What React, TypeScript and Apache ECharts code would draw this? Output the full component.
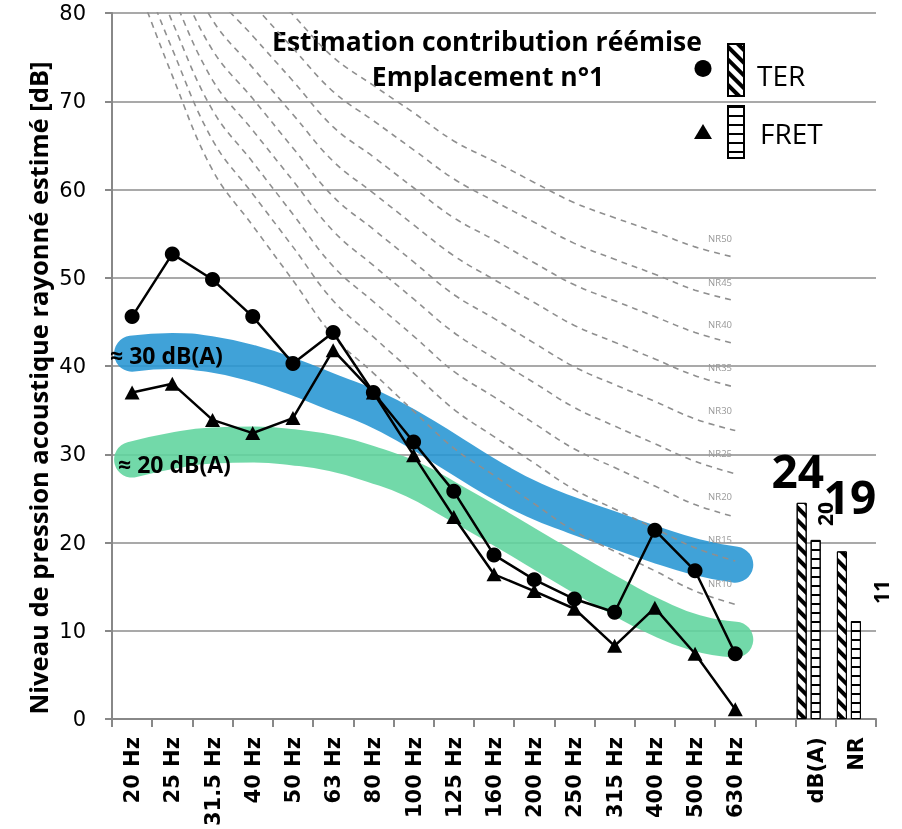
import React, { useEffect, useRef } from 'react';
import * as echarts from 'echarts';

const freqLabels = ['20 Hz', '25 Hz', '31.5 Hz', '40 Hz', '50 Hz', '63 Hz', '80 Hz', '100 Hz', '125 Hz', '160 Hz', '200 Hz', '250 Hz', '315 Hz', '400 Hz', '500 Hz', '630 Hz'];
const categories = [...freqLabels, '', 'dB(A)', 'NR'];
const yTicks = { min: 0, max: 80, interval: 10 };

const terValues = [45.6, 52.7, 49.8, 45.6, 40.3, 43.8, 37.0, 31.4, 25.8, 18.6, 15.8, 13.6, 12.1, 21.4, 16.8, 7.4];
const fretValues = [37.0, 38.0, 33.9, 32.4, 34.1, 41.8, 37.0, 29.9, 22.9, 16.4, 14.5, 12.5, 8.3, 12.6, 7.4, 1.1];

const terTotals = [24.5, 19.0];
const terTotalLabels = ['24', '19'];
const fretTotals = [20.3, 11.1];
const fretTotalLabels = ['20', '11'];

const band30 = [41.4, 41.7, 41.3, 40.3, 38.8, 37.0, 35.2, 32.8, 30.0, 27.2, 24.8, 23.0, 21.4, 19.8, 18.4, 17.5];
const band20 = [29.4, 30.4, 31.0, 31.1, 30.8, 30.1, 28.8, 27.1, 24.6, 22.0, 19.3, 16.6, 14.0, 11.6, 9.8, 9.0];

const nr10 = [84.8, 72.9, 62.2, 55.9, 49.7, 43.4, 39.2, 34.9, 30.7, 27.6, 24.4, 21.3, 19.0, 16.8, 14.5, 13.0];
const nr15 = [87.4, 75.9, 65.6, 59.5, 53.5, 47.4, 43.3, 39.2, 35.1, 32.0, 29.0, 26.0, 23.8, 21.6, 19.4, 17.9];
const nr20 = [90.2, 79.0, 69.0, 63.1, 57.2, 51.3, 47.3, 43.4, 39.4, 36.5, 33.5, 30.6, 28.5, 26.4, 24.3, 22.9];
const nr25 = [93.0, 82.1, 72.4, 66.7, 61.0, 55.3, 51.4, 47.6, 43.8, 40.9, 38.1, 35.3, 33.2, 31.2, 29.2, 27.8];
const nr30 = [95.7, 85.2, 75.8, 70.3, 64.7, 59.2, 55.5, 51.8, 48.1, 45.4, 42.6, 39.9, 37.9, 36.0, 34.0, 32.7];
const nr35 = [98.0, 88.3, 79.2, 73.8, 68.5, 63.2, 59.6, 56.0, 52.5, 49.8, 47.2, 44.6, 42.7, 40.8, 38.9, 37.6];
const nr40 = [101.0, 91.4, 82.6, 77.4, 72.3, 67.1, 63.7, 60.2, 56.8, 54.3, 51.7, 49.2, 47.4, 45.6, 43.8, 42.5];
const nr45 = [104.0, 94.5, 86.0, 81.0, 76.0, 71.1, 67.8, 64.5, 61.2, 58.7, 56.3, 53.9, 52.1, 50.4, 48.6, 47.4];
const nr50 = [107.0, 97.6, 89.5, 84.6, 79.8, 75.0, 71.8, 68.7, 65.5, 63.2, 60.8, 58.5, 56.8, 55.2, 53.5, 52.3];
const nrNames = ['NR10', 'NR15', 'NR20', 'NR25', 'NR30', 'NR35', 'NR40', 'NR45', 'NR50'];
const nrCurves = [nr10, nr15, nr20, nr25, nr30, nr35, nr40, nr45, nr50];

const titleLines = ['Estimation contribution réémise', 'Emplacement n°1'];
const yAxisTitle = 'Niveau de pression acoustique rayonné estimé [dB]';

const OPEN = '"Open Sans", "Noto Sans", sans-serif';
const DEJAVU = '"DejaVu Sans", Verdana, sans-serif';

export default function App() {
  const ref = useRef<HTMLDivElement>(null);
  useEffect(() => {
    const chart = echarts.init(ref.current as HTMLDivElement, null, { renderer: 'svg' });
    const nBlank = categories.length - 2;
    const pad = (n: number) => Array(n).fill(null);

    const terDecal = {
      symbol: 'rect', symbolSize: 1, color: '#000', backgroundColor: '#fff',
      dashArrayX: [1, 0], dashArrayY: [3.5, 4.5], rotation: Math.PI / 4,
    };
    const fretDecal = {
      symbol: 'rect', symbolSize: 1, color: '#000', backgroundColor: '#fff',
      dashArrayX: [1, 0], dashArrayY: [1.5, 6.5], rotation: 0,
    };

    const nrSeries = nrCurves.map((vals, k) => ({
      type: 'line', name: nrNames[k], data: vals, smooth: 0.4, symbol: 'none', showSymbol: false,
      silent: true, z: 3,
      lineStyle: { color: '#8f8f8f', width: 1.6, type: [6, 5] },
      markPoint: {
        symbol: 'circle', symbolSize: 1, silent: true, itemStyle: { color: 'transparent' },
        data: [{ coord: [14, vals[14]] }],
        label: { show: true, formatter: nrNames[k], position: 'inside', offset: [25, -8], color: '#999', fontSize: 9.5, fontFamily: OPEN },
      },
    }));

    const option: any = {
      animation: false,
      grid: { left: 112, right: 26, top: 13, bottom: 109, containLabel: false },
      xAxis: {
        type: 'category', data: categories, boundaryGap: true,
        axisLine: { lineStyle: { color: '#888', width: 2 } },
        axisTick: { show: true, length: 8, interval: 0, lineStyle: { color: '#888', width: 2 } },
        axisLabel: { rotate: 90, interval: 0, fontSize: 21, fontWeight: 'bold', fontFamily: DEJAVU, color: '#000', margin: 18 },
      },
      yAxis: {
        type: 'value', min: yTicks.min, max: yTicks.max, interval: yTicks.interval,
        axisLine: { show: true, lineStyle: { color: '#888', width: 2 } },
        axisTick: { show: true, length: 7, lineStyle: { color: '#888', width: 2 } },
        splitLine: { lineStyle: { color: '#8c8c8c', width: 1.5 } },
        axisLabel: { fontSize: 21, fontFamily: DEJAVU, color: '#000', margin: 26 },
      },
      legend: {
        data: ['TER', 'FRET'], orient: 'vertical', left: 727, top: 43, padding: 0,
        itemWidth: 16, itemHeight: 52, itemGap: 8, icon: 'rect', selectedMode: false,
        formatter: () => '', textStyle: { fontSize: 1 },
      },
      series: [
        {
          type: 'line', name: 'band30', data: band30, smooth: 0.5, symbol: 'none', silent: true, z: 1,
          lineStyle: { color: 'rgba(38,149,211,0.88)', width: 36, cap: 'round', join: 'round' },
        },
        {
          type: 'line', name: 'band20', data: band20, smooth: 0.5, symbol: 'none', silent: true, z: 1,
          lineStyle: { color: 'rgba(95,212,157,0.88)', width: 36, cap: 'round', join: 'round' },
        },
        ...nrSeries,
        {
          type: 'line', name: 'TER line', data: terValues, symbol: 'circle', symbolSize: 15, showSymbol: true, z: 6,
          itemStyle: { color: '#000' }, lineStyle: { color: '#000', width: 2.5 },
        },
        {
          type: 'line', name: 'FRET line', data: fretValues, symbol: 'triangle', symbolSize: [15, 14], showSymbol: true, z: 6,
          itemStyle: { color: '#000' }, lineStyle: { color: '#000', width: 2.5 },
        },
        {
          type: 'bar', name: 'TER', barWidth: 10, barGap: '40%', z: 5,
          itemStyle: { color: '#fff', borderColor: '#000', borderWidth: 1, decal: terDecal },
          data: [
            ...pad(nBlank),
            { value: terTotals[0], label: { show: true, formatter: terTotalLabels[0], position: [1, -33], align: 'center', verticalAlign: 'middle', fontSize: 46, fontWeight: 'bold', fontFamily: OPEN, color: '#000' } },
            { value: terTotals[1], label: { show: true, formatter: terTotalLabels[1], position: [13, -55], align: 'center', verticalAlign: 'middle', fontSize: 46, fontWeight: 'bold', fontFamily: OPEN, color: '#000' } },
          ],
        },
        {
          type: 'bar', name: 'FRET', barWidth: 10, barGap: '40%', z: 5,
          itemStyle: { color: '#fff', borderColor: '#000', borderWidth: 1, decal: fretDecal },
          data: [
            ...pad(nBlank),
            { value: fretTotals[0], label: { show: true, formatter: fretTotalLabels[0], position: [14, -26], rotate: 90, align: 'center', verticalAlign: 'middle', fontSize: 21, fontWeight: 'bold', fontFamily: OPEN, color: '#000' } },
            { value: fretTotals[1], label: { show: true, formatter: fretTotalLabels[1], position: [30, -29], rotate: 90, align: 'center', verticalAlign: 'middle', fontSize: 21, fontWeight: 'bold', fontFamily: OPEN, color: '#000' } },
          ],
        },
        {
          type: 'bar', name: 'spacer', barWidth: 10, barGap: '40%', silent: true,
          data: pad(categories.length),
        },
      ],
      graphic: [
        { type: 'text', x: 487, y: 41, style: { text: titleLines[0], align: 'center', verticalAlign: 'middle', font: `bold 26.5px ${OPEN}`, fill: '#000' } },
        { type: 'text', x: 488, y: 76, style: { text: titleLines[1], align: 'center', verticalAlign: 'middle', font: `bold 26.5px ${OPEN}`, fill: '#000' } },
        { type: 'text', x: 38, y: 388, rotation: Math.PI / 2, style: { text: yAxisTitle, align: 'center', verticalAlign: 'middle', font: `bold 25.5px ${OPEN}`, fill: '#000' } },
        { type: 'text', x: 110, y: 355, z: 10, style: { text: '≈ 30 dB(A)', align: 'left', verticalAlign: 'middle', font: `bold 23px ${OPEN}`, fill: '#000' } },
        { type: 'text', x: 118, y: 464, z: 10, style: { text: '≈ 20 dB(A)', align: 'left', verticalAlign: 'middle', font: `bold 23px ${OPEN}`, fill: '#000' } },
        { type: 'circle', shape: { cx: 703, cy: 68.5, r: 8.5 }, style: { fill: '#000' } },
        { type: 'polygon', shape: { points: [[703, 124], [694, 139], [712, 139]] }, style: { fill: '#000' } },
        { type: 'text', x: 757, y: 75, style: { text: 'TER', align: 'left', verticalAlign: 'middle', font: `28px ${OPEN}`, fill: '#000' } },
        { type: 'text', x: 760, y: 133, style: { text: 'FRET', align: 'left', verticalAlign: 'middle', font: `28px ${OPEN}`, fill: '#000' } },
      ],
    };
    chart.setOption(option);
    return () => chart.dispose();
  }, []);
  return <div ref={ref} style={{ position: 'fixed', left: 0, top: 0, width: 902, height: 829 }} />;
}
